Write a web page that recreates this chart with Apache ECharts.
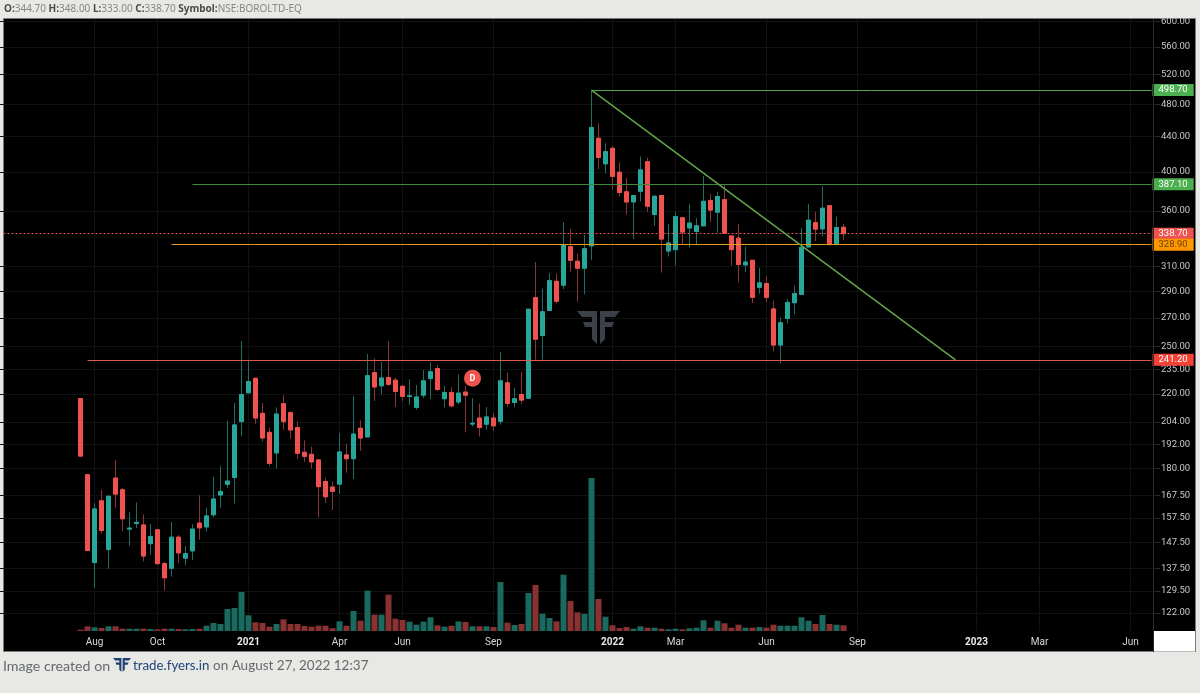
<!DOCTYPE html>
<html><head><meta charset="utf-8">
<style>html,body{margin:0;padding:0;background:#e8e8e4}#c{width:1200px;height:693px}</style>
<script src="https://cdn.jsdelivr.net/npm/echarts@6/dist/echarts.min.js"></script>
</head><body><div id="c"></div>
<script>
// Weekly OHLC, first candle 2020-07-20
const opens = [217.3,177,139.7,165,144.7,175.4,170,152.9,155.2,154.6,147,152.6,139.3,137.6,149.6,141.4,144.2,155.4,153.8,158.9,167.6,172.5,175.7,204.2,220.7,229.5,208.8,198.4,187.7,214.3,209.2,201,188,187,184.2,173.8,171.2,172.6,186.7,184.8,200.6,196,233,224.9,230,228.3,224.6,218.5,212.2,219.3,229.3,235.6,217.2,220.9,215.3,221.1,202.9,206.2,202.8,206.2,204.4,226.7,215,219.7,217.5,285.2,257.5,275.5,298,294.9,327.2,314.5,308.7,327.8,438,408.9,426.3,399.7,379.2,369,379.8,411.1,356.7,375.4,323.3,324.5,353.6,344,340.8,346,370.3,359,371.3,336.7,334.7,311.5,315.3,293.2,296.2,276.6,251,269.6,281.3,287.7,326.9,349,343.2,365.3,329.3,344.7];
const highs = [217.5,177.2,164,170,167.5,184.2,170.8,160.2,164.3,159,155,153,140.1,155.8,150.4,146,154.9,167.5,162,176,181.1,204.7,214.7,253.6,241.3,229.8,214.7,201,212.2,219.2,210,204.2,194.2,190.9,184.6,175.5,173.8,198,192.4,218.8,205,245,242,239.8,253.6,229.9,225.2,228.9,225.4,234.6,239.6,237.7,224.6,224,231.9,224.9,217.5,214.5,212.4,209,246.3,233,223.8,233.6,276.6,313.8,292.1,304.4,304.4,349.4,343.2,321,337.6,498.7,455.9,431.9,428.9,410.5,393.5,375.5,417,415.6,375.5,375.5,347.8,359.3,354,367,353.2,395.7,376.8,379.2,386,337,347.8,327.2,315.5,309,302.1,283,270.1,284,294.6,344,367,359.3,385,365.5,354.7,348];
const lows = [186,144.2,130.5,151,137.4,162,152,146.2,153.3,140.1,142.7,139,129.6,134.5,139.5,138.7,140.7,148.6,151.9,157.8,161.9,170.8,163.8,196.4,220.5,203,193.6,181.1,179.9,199.8,195.1,184.5,183.2,179.9,157.8,164,161,168,178,175,188.7,195.8,215.9,219.7,224.9,212.5,215.9,213.7,210.9,217.5,216.9,221.7,212.2,212.2,214.1,198.4,201.5,196.2,199.8,199,202.5,212.5,212.2,214.1,217.3,241.3,241.3,275,281,291.7,305.6,282,287.7,315.3,403,398.6,381.4,374.1,356.7,333.9,369.6,359.3,346,305.1,318.6,310.8,329.3,326.2,329.3,345.5,349.7,339.7,339,310.8,297.2,305.6,281,288.2,281.7,246.7,238.8,266,272.6,287.5,326.7,332.2,336.1,328.9,329,333];
const closes = [186.1,144.3,161.4,152.3,167,168,157.2,153.3,155.7,142.2,149.9,139.3,134.1,149.6,143.4,143.1,152.9,153.4,158.4,165.8,169.2,174,202.4,219.7,227.5,206.2,195.4,182.5,208.4,204.2,199.7,187.5,186,183.2,171.4,166.8,169.3,188.2,184.8,197.5,195.4,231.1,224.2,229.7,225.8,221.5,218.6,218.9,218.2,227.9,233.6,222.7,220.9,213.1,220.5,219.3,203.3,201,206.8,201.9,227.9,214.5,217.2,216.4,276.4,255,274.5,298.5,282.4,328.7,315.3,308.7,325.3,450.9,415.9,422.5,395.3,378.5,369,375.4,402.2,364.8,374.7,333.9,330.4,354.6,340.2,348.5,346,369.6,361,374.4,339.2,324.5,311.8,313.8,285.4,296.7,285.4,251,266.5,281.5,288.3,326.5,351.3,342.9,362.8,328.9,344.3,338.7];
const volumes = [1.3,4.7,3.7,3,4.7,4.7,2.3,2.3,2.3,2.3,2,1.7,2.3,2.3,2,1.7,2,2.3,5.3,8,7,22,23,39,15.7,8.7,8,4.3,7,11.7,7,7,5,4.3,5.3,5.3,2.7,9.7,5.3,20,10.3,40.3,16.3,16.3,36.3,12.3,11,9.3,6.3,9.3,13.7,5.7,4.3,5.3,9.5,9,4.7,4.7,4.7,4,49,8.3,6,7,38,46,17.3,13,9.7,56.3,30,18.7,17,153,32,14.3,5.7,3,4,2.3,4.7,3.3,3.3,2.3,1.7,2.3,1.7,2.7,3.3,10.7,3.3,10.3,7.7,3.3,6.3,3.3,3.3,4,3.3,6.3,5.3,5.3,5.3,13.7,10.3,7,16,7,6.3,5.7];
const yTicks = [600,560,520,480,440,400,360,310,290,270,250,235,220,204,192,180,167.5,157.5,147.5,137.5,129.5,122];
const xTicks = {'2020-08-03':'Aug','2020-10-05':'Oct','2021-01-04':'2021','2021-04-05':'Apr','2021-06-07':'Jun','2021-09-06':'Sep','2022-01-03':'2022','2022-03-07':'Mar','2022-06-06':'Jun','2022-09-05':'Sep','2023-01-02':'2023','2023-03-06':'Mar','2023-06-05':'Jun'};
const levelGreenHigh = 498.7, levelGreenMid = 387.1, levelLast = 338.7, levelOrange = 328.9, levelRed = 241.2;
const dividendPrice = 229.5;

const LEAD = 11, SLOTS = 165;
const categories = [];
for (let s = 0; s < SLOTS; s++) {
  const d = new Date(Date.UTC(2020, 6, 20 + (s - LEAD) * 7));
  categories.push(d.toISOString().slice(0, 10));
}
const slotOf = i => i + LEAD;
const wickData = opens.map((o, i) => [categories[slotOf(i)], o, closes[i], lows[i], highs[i]]);
const bodyData = opens.map((o, i) => [categories[slotOf(i)], o, closes[i], Math.min(o, closes[i]), Math.max(o, closes[i])]);
const volData = volumes.map((v, i) => ({
  value: [categories[slotOf(i)], v],
  itemStyle: { color: closes[i] >= opens[i] ? '#1b6a60' : '#8a3232' }
}));
const TEAL = '#27a69a', RED = '#f0534f';

function levelLine(fromIdx, value, color, tagBg, tagText, opt) {
  return [{
    coord: [fromIdx === null ? 0 : slotOf(fromIdx), value],
    lineStyle: Object.assign({ color, width: 1, type: 'solid' }, opt || {}),
    label: {
      show: true, position: 'end', distance: 1, formatter: value.toFixed(2), color: tagText,
      backgroundColor: tagBg, padding: [1, 6, 0, 6], lineHeight: 11, align: 'left',
      fontFamily: 'Roboto', fontSize: 9.5
    }
  }, { coord: [SLOTS - 1, value], symbol: 'none' }];
}

const ffLeft = [[0,0],[20,0],[20,33],[15,28],[15,16],[8,16],[6,11],[15,11],[15,6],[5,6]];
const ffRight = ffLeft.map(p => [43 - p[0], p[1]]);
function ffLogo(x, y, scale, color, z) {
  return { type: 'group', x, y, scaleX: scale, scaleY: scale, z, silent: true, children: [
    { type: 'polygon', shape: { points: ffLeft }, style: { fill: color }, z },
    { type: 'polygon', shape: { points: ffRight }, style: { fill: color }, z }
  ]};
}
const hdr = 'Noto Sans', ftr = 'Lato';

const chart = echarts.init(document.getElementById('c'));
chart.setOption({
  animation: false,
  backgroundColor: '#e8e8e4',
  grid: [
    { left: 0, top: 19, width: 1155, height: 612 },
    { left: 0, top: 478, width: 1155, height: 153 }
  ],
  xAxis: [
    { type: 'category', gridIndex: 0, data: categories, boundaryGap: true, show: false },
    { type: 'category', gridIndex: 1, data: categories, boundaryGap: true,
      axisLine: { show: false }, axisTick: { show: false }, splitLine: { show: false },
      axisLabel: {
        interval: (idx, val) => val in xTicks,
        formatter: val => /^\d+$/.test(xTicks[val]) ? '{y|' + xTicks[val] + '}' : (xTicks[val] || ''),
        color: '#d8d8d8', fontFamily: 'Roboto', fontSize: 10, margin: 6,
        rich: { y: { color: '#e8e8e8', fontFamily: 'Roboto', fontSize: 10, fontWeight: 'bold' } }
      } }
  ],
  yAxis: [
    { type: 'log', logBase: 10, gridIndex: 0, position: 'right', min: 116.2, max: 603.9,
      axisLine: { show: false },
      axisTick: { show: true, length: 5, lineStyle: { color: '#2a2a2a' }, customValues: yTicks },
      splitLine: { show: false },
      axisLabel: { customValues: yTicks, formatter: v => Number(v).toFixed(2), color: '#c8c8c8', fontFamily: 'Roboto', fontSize: 9.5, margin: 6, padding: [2, 0, 0, 0], showMinLabel: true, showMaxLabel: true, hideOverlap: false } },
    { type: 'value', gridIndex: 1, min: 0, max: 153, show: false }
  ],
  series: [
    { type: 'bar', name: 'Volume', xAxisIndex: 1, yAxisIndex: 1, data: volData, barWidth: 6, z: 1, silent: true },
    { type: 'candlestick', name: 'wicks', xAxisIndex: 0, yAxisIndex: 0, data: wickData, encode: { x: 0, y: [1, 2, 3, 4] }, barWidth: 5, z: 3, silent: true,
      itemStyle: { color: '#1e6e66', color0: '#8a3535', borderColor: '#1e6e66', borderColor0: '#8a3535', borderWidth: 1 },
      markLine: { silent: true, symbol: 'none', animation: false, z: 0, precision: 2,
        label: { show: false },
        lineStyle: { color: '#121212', width: 1, type: 'solid' },
        data: Object.keys(xTicks).map(k => ({ xAxis: categories.indexOf(k) })).concat(yTicks.map(t => ({ yAxis: t }))) } },
    { type: 'candlestick', name: 'bodies', xAxisIndex: 0, yAxisIndex: 0, data: bodyData, encode: { x: 0, y: [1, 2, 3, 4] }, barWidth: 5, z: 4, silent: true,
      itemStyle: { color: TEAL, color0: RED, borderColor: TEAL, borderColor0: RED, borderWidth: 1 },
      markPoint: { silent: true, animation: false, symbol: 'circle', symbolSize: 17,
        itemStyle: { color: '#ef5350' },
        label: { show: true, color: '#fff', fontFamily: 'Roboto', fontWeight: 'bold', fontSize: 9, formatter: 'D' },
        data: [{ coord: [slotOf(56), dividendPrice], value: 'D' }] },
      markLine: { silent: true, symbol: 'none', animation: false, z: 6, precision: 2,
        data: [
          levelLine(null, levelLast, '#e05555', '#ef5350', '#fff', { type: [2, 2] }),
          levelLine(73, levelGreenHigh, '#55a34a', '#4caf50', '#fff'),
          levelLine(16, levelGreenMid, '#3f8a3f', '#4caf50', '#fff'),
          levelLine(13, levelOrange, '#e39a17', '#ff9800', '#6b4300'),
          levelLine(1, levelRed, '#e0584c', '#f44336', '#fff'),
          [{ coord: [slotOf(73), levelGreenHigh], lineStyle: { color: '#5fa64a', width: 1.5, type: 'solid' }, label: { show: false } },
           { coord: [slotOf(125), levelRed], symbol: 'none' }]
        ] } }
  ],
  graphic: { elements: [
    { type: 'rect', z: -10, silent: true, shape: { x: 3.5, y: 18.5, width: 1192, height: 633 }, style: { fill: '#000', stroke: '#77797a', lineWidth: 1 } },
    { type: 'line', z: 20, silent: true, shape: { x1: 1153.5, y1: 19, x2: 1153.5, y2: 652 }, style: { stroke: '#2b2b2b', lineWidth: 1 } },
    { type: 'rect', z: 30, silent: true, shape: { x: 0, y: 0, width: 1200, height: 18 }, style: { fill: '#e8e8e4' } },
    { type: 'rect', z: 30, silent: true, shape: { x: 1154, y: 631, width: 41, height: 20.5 }, style: { fill: '#fff' } },
    ffLogo(577, 311, 1, '#3b4049', 2),
    ffLogo(113, 658, 0.42, '#1f3f72', 31),
    { type: 'text', z: 31, silent: true, x: 4, y: 4, style: {
        text: '{b|O:}{v|344.70} {b|H:}{v|348.00} {b|L:}{v|333.00} {b|C:}{v|338.70} {b|Symbol:}{v|NSE:BOROLTD-EQ}',
        fontFamily: hdr, fontSize: 10,
        rich: { b: { fontFamily: hdr, fontSize: 10, fontWeight: 'bold', fill: '#4a4a4a' }, v: { fontFamily: hdr, fontSize: 10, fill: '#878787' } } } },
    { type: 'text', z: 31, silent: true, x: 3, y: 659, style: { text: 'Image created on', fontFamily: ftr, fontSize: 14.2, fill: '#666a6e' } },
    { type: 'text', z: 31, silent: true, x: 133, y: 659, style: { text: 'trade.fyers.in', fontFamily: ftr, fontSize: 13.3, fill: '#23457c' } },
    { type: 'text', z: 31, silent: true, x: 213, y: 659, style: { text: 'on August 27, 2022 12:37', fontFamily: ftr, fontSize: 13.5, fill: '#666a6e' } }
  ] }
});
</script></body></html>
